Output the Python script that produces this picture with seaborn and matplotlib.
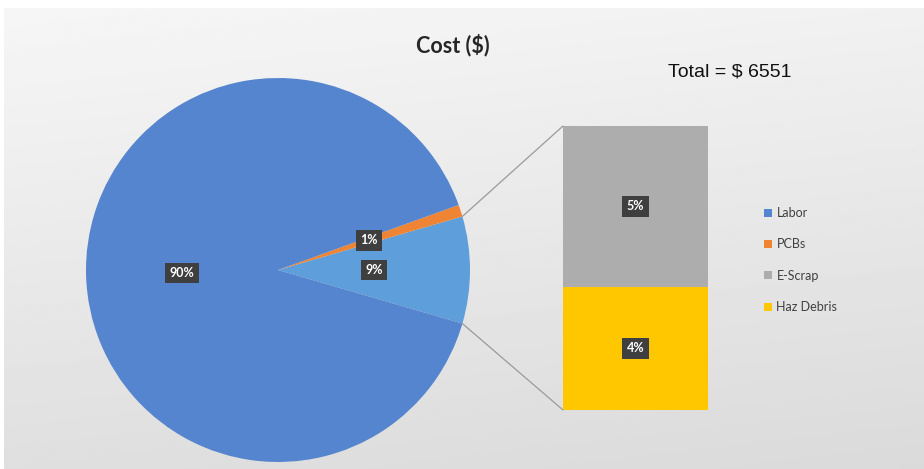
import numpy as np
import pandas as pd
import matplotlib
matplotlib.use("Agg")
import matplotlib.pyplot as plt
from matplotlib.patches import ConnectionPatch, Patch
import seaborn as sns

# ---- data ----
pie_labels = ["Other", "PCBs", "Labor"]
pie_values = [9, 1, 90]
pie_colors = ["#5E9EDB", "#EE8434", "#5585CE"]

bar_labels = ["Haz Debris", "E-Scrap"]
bar_values = [3.9, 5.1]
bar_texts = ["4%", "5%"]
bar_colors = ["#FFC700", "#ADADAD"]

legend_labels = ["Labor", "PCBs", "E-Scrap", "Haz Debris"]
legend_colors = ["#5585CE", "#EE8434", "#ADADAD", "#FFC700"]

title = "Cost ($)"
total_text = "Total = $ 6551"

sns.set_theme(style="white")
plt.rcParams["font.family"] = ["Lato", "DejaVu Sans"]

W, H = 924, 469
fig = plt.figure(figsize=(W / 100, H / 100), dpi=100)
fig.patch.set_facecolor("white")

def fx(px):
    return px / W

def fy(py):
    return 1 - py / H

# background gradient panel
bg = fig.add_axes([fx(4), 0, 1 - fx(4), fy(8)])
yy = np.linspace(0, 1, 200)[:, None]
xx = np.linspace(0, 1, 300)[None, :]
grad = 0.965 - 0.09 * yy - 0.02 * xx
bg.imshow(grad, cmap="gray", vmin=0, vmax=1, aspect="auto", extent=[0, 1, 0, 1])
bg.set_axis_off()

label_box = dict(boxstyle="square,pad=0.35", facecolor="#3F3F3F", edgecolor="none")

# ---- pie ----
pie_ax = fig.add_axes([fx(86), fy(462), fx(384), 384 / H])
startangle = -360 * pie_values[0] / sum(pie_values) / 2
wedges, texts, autotexts = pie_ax.pie(
    pie_values, colors=pie_colors, startangle=startangle, counterclock=True,
    radius=1, autopct="%d%%", pctdistance=0.5,
    wedgeprops=dict(linewidth=0),
    textprops=dict(color="white", fontsize=9, fontweight="bold"),
)
for t in autotexts:
    t.set_bbox(label_box)
pie_ax.set_xlim(-1, 1)
pie_ax.set_ylim(-1, 1)
pie_ax.set_aspect("equal")

# ---- stacked bar (bar of pie) ----
bar_ax = fig.add_axes([fx(563), fy(410), fx(708 - 563), (410 - 126) / H])
total = sum(bar_values)
df_top = pd.DataFrame({"x": ["Other"], "v": [total]})
df_bot = pd.DataFrame({"x": ["Other"], "v": [bar_values[0]]})
sns.barplot(data=df_top, x="x", y="v", color=bar_colors[1], width=1.0,
            saturation=1, ax=bar_ax, linewidth=0)
sns.barplot(data=df_bot, x="x", y="v", color=bar_colors[0], width=1.0,
            saturation=1, ax=bar_ax, linewidth=0)
bar_ax.set_xlim(-0.5, 0.5)
bar_ax.set_ylim(0, total)
bar_ax.set_axis_off()
bottom = 0
for v, txt in zip(bar_values, bar_texts):
    bar_ax.text(0, bottom + v / 2, txt, ha="center", va="center", color="white",
                fontsize=9, fontweight="bold", bbox=label_box)
    bottom += v

# ---- connector lines ----
w = wedges[0]
for ang, yb in [(w.theta2, total), (w.theta1, 0)]:
    xa, ya = np.cos(np.radians(ang)), np.sin(np.radians(ang))
    con = ConnectionPatch(xyA=(-0.5, yb), coordsA=bar_ax.transData,
                          xyB=(xa, ya), coordsB=pie_ax.transData,
                          color="#9A9A9A", linewidth=0.9)
    fig.add_artist(con)

# ---- texts ----
fig.text(fx(453), fy(45), title, ha="center", va="center", fontsize=15.5,
         color="#262626", fontweight="bold")
fig.text(fx(730), fy(72), total_text, ha="center", va="center", fontsize=14,
         color="#111111", family=["Liberation Sans", "DejaVu Sans"])

# ---- legend ----
handles = [Patch(facecolor=c, edgecolor="none") for c in legend_colors]
leg = fig.legend(handles, legend_labels, loc="upper left",
                 bbox_to_anchor=(fx(764), fy(207)), frameon=False,
                 fontsize=9, labelcolor="#404040", handlelength=0.6,
                 handleheight=0.6, handletextpad=0.4, labelspacing=1.55,
                 borderpad=0, borderaxespad=0)

fig.savefig("out.png", dpi=100, facecolor=fig.get_facecolor())
